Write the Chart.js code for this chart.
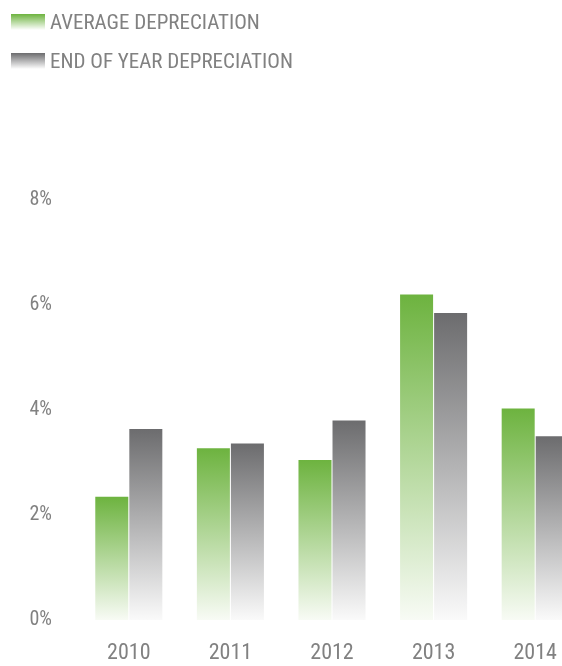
<!DOCTYPE html>
<html>
<head>
<meta charset="utf-8">
<script src="https://cdn.jsdelivr.net/npm/chart.js@4"></script>
<style>
  html, body { margin: 0; padding: 0; background: #fff; overflow: hidden; width: 562px; height: 666px; }
  #wrap { position: relative; width: 562px; height: 666px; overflow: hidden; }
  #grafica { position: absolute; left: 0; top: 0; }
  .leyenda { position: absolute; left: 11px; font-family: "Roboto Condensed", "Liberation Sans Narrow", "DejaVu Sans Condensed", Roboto, sans-serif; font-weight: 400; font-size: 21px; color: #818181; white-space: nowrap; }
  .leyenda span.caja { position: absolute; left: 0; top: 3px; width: 34px; height: 16px; }
  .leyenda span.txt { position: absolute; left: 39px; top: 0; line-height: 22px; }
</style>
</head>
<body>
<div id="wrap">
  <canvas id="grafica" width="586" height="666" style="width:586px;height:666px"></canvas>
  <div class="leyenda" style="top:11px"><span class="caja" id="caja-0"></span><span class="txt" id="txt-0"></span></div>
  <div class="leyenda" style="top:50px"><span class="caja" id="caja-1"></span><span class="txt" id="txt-1"></span></div>
</div>
<script>
const YEARS = ['2010', '2011', '2012', '2013', '2014'];
const AVERAGE = [2.35, 3.27, 3.05, 6.2, 4.03];
const END_OF_YEAR = [3.64, 3.36, 3.8, 5.85, 3.5];
const SERIES_NAMES = ['AVERAGE DEPRECIATION', 'END OF YEAR DEPRECIATION'];
const Y_TICKS = [0, 2, 4, 6, 8];

const TOP_COLORS = ['#6db33f', '#6c6c6e'];
const BOTTOM_COLORS = ['rgba(248,251,245,1)', 'rgba(250,250,250,1)'];
const FONT = '"Roboto Condensed", "Liberation Sans Narrow", "DejaVu Sans Condensed", Roboto, sans-serif';

// legend in HTML, swatches share the bar gradients
SERIES_NAMES.forEach((n, i) => {
    document.getElementById('txt-' + i).textContent = n;
    document.getElementById('caja-' + i).style.background =
        'linear-gradient(' + TOP_COLORS[i] + ', #ffffff)';
});

// each bar fades from full colour at its top down to white at zero
function degradado(i) {
    return function (ctx) {
        const chart = ctx.chart;
        const area = chart.chartArea;
        if (!area || ctx.type !== 'data') return TOP_COLORS[i];
        const y = chart.scales.y;
        const top = y.getPixelForValue(ctx.raw);
        const bottom = y.getPixelForValue(0);
        const g = chart.ctx.createLinearGradient(0, top, 0, bottom);
        g.addColorStop(0, TOP_COLORS[i]);
        g.addColorStop(1, BOTTOM_COLORS[i]);
        return g;
    };
}

const ctx = document.getElementById('grafica').getContext('2d');
const myChart = new Chart(ctx, {
    type: 'bar',
    data: {
        labels: YEARS,
        datasets: [{
            label: SERIES_NAMES[0],
            data: AVERAGE,
            backgroundColor: degradado(0),
            categoryPercentage: 0.67,
            barPercentage: 0.97
        }, {
            label: SERIES_NAMES[1],
            data: END_OF_YEAR,
            backgroundColor: degradado(1),
            categoryPercentage: 0.67,
            barPercentage: 0.97
        }]
    },
    options: {
        responsive: false,
        animation: false,
        layout: { padding: { top: 200, right: 0, left: 0, bottom: 0 } },
        plugins: {
            legend: { display: false },
            tooltip: { enabled: false }
        },
        scales: {
            x: {
                grid: { display: false, drawTicks: false },
                border: { display: false },
                ticks: { color: '#818181', font: { family: FONT, size: 22, weight: '400' }, padding: 20 },
                afterFit: s => { s.height = 46; }
            },
            y: {
                min: 0,
                max: 8,
                afterBuildTicks: s => { s.ticks = Y_TICKS.map(v => ({ value: v })); },
                grid: { display: false, drawTicks: false },
                border: { display: false },
                ticks: {
                    color: '#818181',
                    font: { family: FONT, size: 20, weight: '400' },
                    padding: 26,
                    callback: v => v + '%'
                },
                afterFit: s => { s.width = 78; }
            }
        }
    }
});
</script>
</body>
</html>
